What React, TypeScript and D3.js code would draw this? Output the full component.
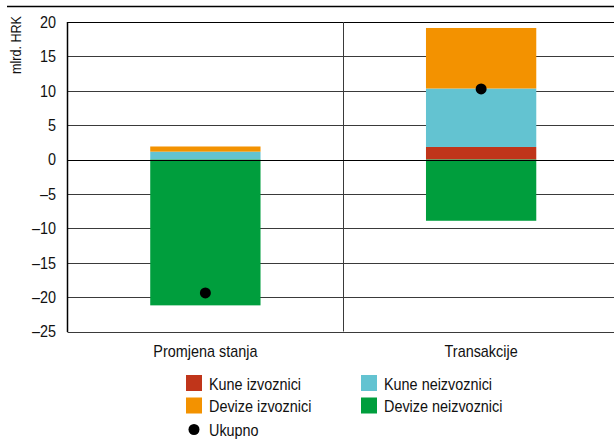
import React from "react";
import * as d3 from "d3";

const categories = ["Promjena stanja", "Transakcije"];
const seriesKeys = ["Kune izvoznici", "Kune neizvoznici", "Devize izvoznici", "Devize neizvoznici"];
const kuneIzvoznici = [0, 1.83];
const kuneNeizvoznici = [1.15, 8.5];
const devizeIzvoznici = [0.75, 8.8];
const devizeNeizvoznici = [-21.2, -8.9];
const ukupno = [-19.4, 10.27];
const yTicks = [20, 15, 10, 5, 0, -5, -10, -15, -20, -25];

const colors: Record<string, string> = {
  "Kune izvoznici": "#c0351a",
  "Kune neizvoznici": "#63c3d1",
  "Devize izvoznici": "#f39200",
  "Devize neizvoznici": "#009e3d",
};

const FONT = "'Liberation Sans Narrow', 'Arial Narrow', 'Liberation Sans', sans-serif";
const SX = 0.9;

function T({ x, y, anchor = "start", size = 16, children, rotate = 0 }: any) {
  return (
    <text transform={`translate(${x},${y}) rotate(${rotate}) scale(${SX},1)`} textAnchor={anchor}
      fontSize={size} fill="#111">{children}</text>
  );
}

export default function App() {
  const W = 614, H = 439;
  const left = 67.5, right = 619, top = 22, bottom = 331.5;
  const x = d3.scaleBand<string>().domain(categories).range([left, right]).padding(0);
  const y = d3.scaleLinear().domain([-25, 20]).range([bottom, top]);
  const barW = x.bandwidth() * 0.4;

  const rows = categories.map((c, i) => ({
    cat: c,
    "Kune izvoznici": kuneIzvoznici[i],
    "Kune neizvoznici": kuneNeizvoznici[i],
    "Devize izvoznici": devizeIzvoznici[i],
    "Devize neizvoznici": devizeNeizvoznici[i],
  }));
  const stack = d3.stack<any>().keys(seriesKeys).offset(d3.stackOffsetDiverging);
  const stacked = stack(rows);

  const fmt = (v: number) => (v < 0 ? "\u2013" + Math.abs(v) : String(v));

  const legend = [
    { label: "Kune izvoznici", x: 186, y: 375 },
    { label: "Kune neizvoznici", x: 361, y: 375 },
    { label: "Devize izvoznici", x: 186, y: 397.5 },
    { label: "Devize neizvoznici", x: 361, y: 397.5 },
  ];

  return (
    <svg width={W} height={H} style={{ position: "absolute", left: 0, top: 0 }} fontFamily={FONT}>
      <rect width={W} height={H} fill="#fff" />
      <line x1={7} x2={W} y1={6.5} y2={6.5} stroke="#000" strokeWidth={1.5} />
      {yTicks.map((t) => (
        <line key={t} x1={left} x2={W} y1={Math.round(y(t)) + 0.5} y2={Math.round(y(t)) + 0.5}
          stroke={t === 20 ? "#000" : "#3a3a3a"} strokeWidth={1} />
      ))}
      <line x1={343.5} x2={343.5} y1={top} y2={bottom} stroke="#3a3a3a" strokeWidth={1} />
      {stacked.map((s) => (
        <g key={s.key} fill={colors[s.key]}>
          {s.map((d, i) => {
            const y0 = y(Math.max(d[0], d[1]));
            const y1 = y(Math.min(d[0], d[1]));
            const cx = (x(categories[i]) as number) + x.bandwidth() / 2;
            return <rect key={i} x={cx - barW / 2} y={y0} width={barW} height={Math.max(0, y1 - y0)} />;
          })}
        </g>
      ))}
      <line x1={left} x2={W} y1={Math.round(y(0)) + 0.5} y2={Math.round(y(0)) + 0.5} stroke="#000" strokeWidth={1} />
      <line x1={left} x2={left} y1={top} y2={bottom + 0.5} stroke="#000" strokeWidth={1.5} />
      {ukupno.map((v, i) => (
        <circle key={i} cx={(x(categories[i]) as number) + x.bandwidth() / 2} cy={y(v)} r={5.5} fill="#000" />
      ))}
      {yTicks.map((t) => (
        <T key={t} x={56} y={y(t) + 5.8} anchor="end">{fmt(t)}</T>
      ))}
      <T x={21} y={45} rotate={-90} anchor="middle" size={14}>mlrd. HRK</T>
      {categories.map((c) => (
        <T key={c} x={(x(c) as number) + x.bandwidth() / 2} y={357} anchor="middle">{c}</T>
      ))}
      {legend.map((l) => (
        <g key={l.label}>
          <rect x={l.x} y={l.y} width={16} height={16} fill={colors[l.label]} />
          <T x={l.x + 23} y={l.y + 14.5}>{l.label}</T>
        </g>
      ))}
      <circle cx={194} cy={429.5} r={5.5} fill="#000" />
      <T x={209} y={436}>Ukupno</T>
    </svg>
  );
}
